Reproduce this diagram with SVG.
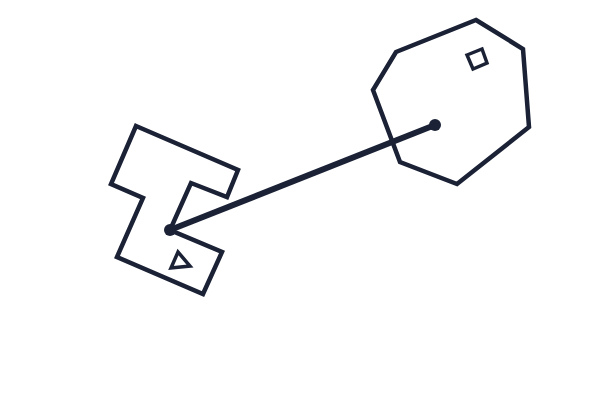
<svg xmlns="http://www.w3.org/2000/svg" width="600" height="420" viewBox="0 0 600 420">
<style>
.s{fill:none;stroke:#1b2236;stroke-width:4.5;stroke-linejoin:miter}
.m{fill:none;stroke:#1b2236;stroke-width:3.5}
.c{stroke:#1b2236;stroke-width:6;fill:none}
.d{fill:#1b2236}
</style>
<rect width="600" height="420" fill="#fff"/>
<g id="nodeA">
<polygon class="s" points="136,126 238,170 227,197 191,183 170,230 222,252 203,294 117,257 143,198 111,184"/>
<polygon class="m" points="171,268 178,252 190,266"/>
</g>
<g id="nodeB">
<polygon class="s" points="476,20 523,49 529,127 457,184 400,162 373,90 396,52"/>
<polygon class="m" points="467,55 482,49 487,63 473,69"/>
</g>
<g id="connectors">
<line class="c" x1="170" y1="230" x2="435" y2="125"/>
<circle class="d" cx="170" cy="230" r="6"/>
<circle class="d" cx="435" cy="125" r="6"/>
</g>
</svg>
